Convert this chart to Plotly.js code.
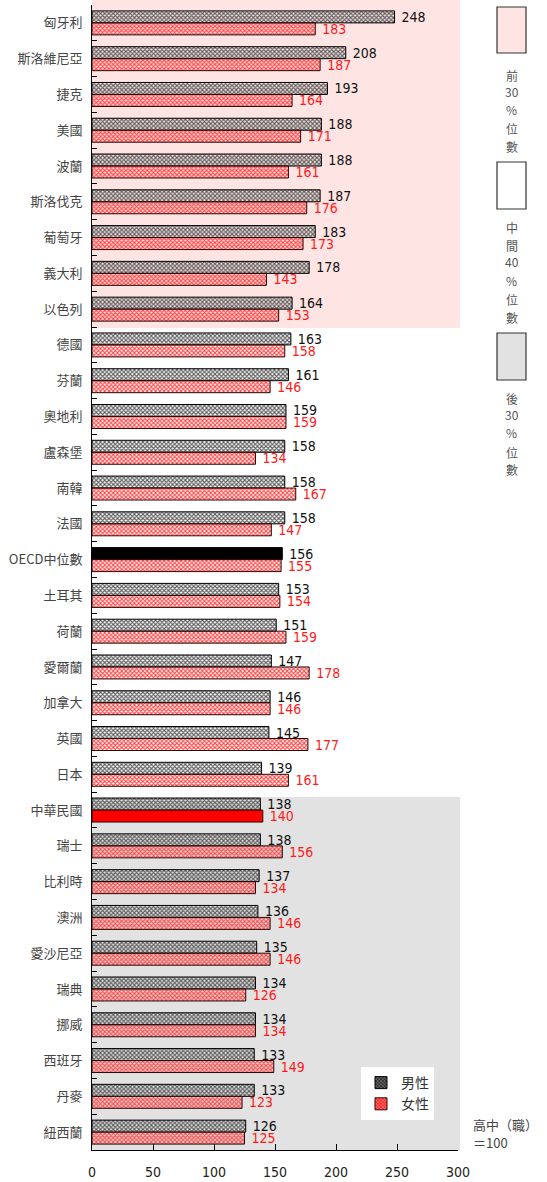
<!DOCTYPE html>
<html>
<head>
<meta charset="utf-8">
<script src="https://cdn.plot.ly/plotly-3.0.1.min.js"></script>
<style>html,body{margin:0;padding:0;background:#fff;}#chart{width:547px;height:1182px;}</style>
</head>
<body>
<div id="chart"></div>
<script>
const categories = ["匈牙利","斯洛維尼亞","捷克","美國","波蘭","斯洛伐克","葡萄牙","義大利","以色列","德國","芬蘭","奧地利","盧森堡","南韓","法國","OECD中位數","土耳其","荷蘭","愛爾蘭","加拿大","英國","日本","中華民國","瑞士","比利時","澳洲","愛沙尼亞","瑞典","挪威","西班牙","丹麥","紐西蘭"];
const maleValues = [248,208,193,188,188,187,183,178,164,163,161,159,158,158,158,156,153,151,147,146,145,139,138,138,137,136,135,134,134,133,133,126];
const femaleValues = [183,187,164,171,161,176,173,143,153,158,146,159,134,167,147,155,154,159,178,146,177,161,140,156,134,146,146,126,134,149,123,125];
const seriesNames = ["男性","女性"];
const xTicks = [0,50,100,150,200,250,300];
const sideLabels = [
  {lines:["前","30","%","位","數"], ys:[75,91,110,128,147]},
  {lines:["中","間","40","%","位","數"], ys:[227,245,261,280,299,317]},
  {lines:["後","30","%","位","數"], ys:[398,414,433,452,470]}
];

const W = 547, H = 1182, L = 92, R = 458, T = 5, B = 1150;
const px = x => (x - L) / (R - L);
const py = y => (B - y) / (B - T);
const NARROW = '"Liberation Sans Narrow","Arial Narrow","DejaVu Sans Condensed",sans-serif';
const CJK = '"Noto Sans CJK TC","Noto Sans CJK SC",sans-serif';

const maleColor = categories.map(c => c === "OECD中位數" ? "#000000" : "#5e5e5e");
const maleShape = categories.map(c => c === "OECD中位數" ? "" : "x");
const femaleColor = categories.map(c => c === "中華民國" ? "#ff0000" : "#ff4a4a");
const femaleShape = categories.map(c => c === "中華民國" ? "" : "x");

const traces = [
  {
    type: "bar", orientation: "h", name: seriesNames[0],
    y: categories, x: maleValues,
    marker: {color: maleColor, line: {color: "#000", width: 1},
      pattern: {shape: maleShape, fgcolor: "#262626", bgcolor: "#7c7c7c", size: 3, solidity: 0.6}},
    text: maleValues.map(String), textposition: "outside", constraintext: "none",
    texttemplate: " %{text}",
    textfont: {family: NARROW, size: 14, color: "#111"}, cliponaxis: false,
    hoverinfo: "skip"
  },
  {
    type: "bar", orientation: "h", name: seriesNames[1],
    y: categories, x: femaleValues,
    marker: {color: femaleColor, line: {color: "#2a0808", width: 1},
      pattern: {shape: femaleShape, fgcolor: "#ff1a1a", bgcolor: "#ff8c8c", size: 3, solidity: 0.6}},
    text: femaleValues.map(String), textposition: "outside", constraintext: "none",
    texttemplate: " %{text}",
    textfont: {family: NARROW, size: 14, color: "#ff1a1a"}, cliponaxis: false,
    hoverinfo: "skip"
  }
];

const shapes = [
  {type: "rect", xref: "paper", yref: "paper", x0: 0, x1: px(460), y0: py(328), y1: py(0), fillcolor: "#ffe4e4", line: {width: 0}, layer: "below"},
  {type: "rect", xref: "paper", yref: "paper", x0: 0, x1: px(460), y0: 0, y1: py(797), fillcolor: "#e2e2e2", line: {width: 0}, layer: "below"},
  {type: "rect", xref: "paper", yref: "paper", x0: px(497), x1: px(526), y0: py(53), y1: py(7), fillcolor: "#ffe4e4", line: {width: 1.2, color: "#333"}},
  {type: "rect", xref: "paper", yref: "paper", x0: px(497), x1: px(526), y0: py(209), y1: py(162), fillcolor: "#ffffff", line: {width: 1.2, color: "#333"}},
  {type: "rect", xref: "paper", yref: "paper", x0: px(497), x1: px(526), y0: py(380), y1: py(333), fillcolor: "#e2e2e2", line: {width: 1.2, color: "#333"}}
];

const annotations = [];
sideLabels.forEach(g => g.lines.forEach((t, i) => {
  annotations.push({xref: "paper", yref: "paper", x: px(511.5), y: py(g.ys[i]), text: t, showarrow: false,
    xanchor: "center", yanchor: "middle", font: {family: CJK, size: 12, color: "#555"}});
}));
annotations.push({xref: "paper", yref: "paper", x: px(471), y: py(1124), text: "高中（職）", showarrow: false,
  xanchor: "left", yanchor: "middle", font: {family: CJK, size: 13, color: "#444"}});
annotations.push({xref: "paper", yref: "paper", x: px(471), y: py(1142), text: "＝100", showarrow: false,
  xanchor: "left", yanchor: "middle", font: {family: CJK, size: 13, color: "#444"}});

const layout = {
  width: W, height: H,
  margin: {l: L, r: W - R, t: T, b: H - B, pad: 0},
  paper_bgcolor: "#fff", plot_bgcolor: "rgba(0,0,0,0)",
  barmode: "group", bargap: 0.33, bargroupgap: 0,
  showlegend: true,
  legend: {x: px(434), xanchor: "right", y: py(1120), yanchor: "bottom", bgcolor: "#fff",
    font: {family: CJK, size: 14, color: "#333"}, itemwidth: 30, tracegroupgap: 2},
  xaxis: {range: [0, 300], tickvals: xTicks, ticktext: xTicks.map(String), showline: true, linecolor: "#000", linewidth: 1,
    ticks: "inside", ticklen: 6, tickcolor: "#000", showgrid: false, zeroline: false,
    tickfont: {family: NARROW, size: 14, color: "#222"}, ticklabelstandoff: 9, fixedrange: true},
  yaxis: {type: "category", autorange: "reversed", showline: true, linecolor: "#000", linewidth: 1,
    ticks: "inside", tickson: "boundaries", ticklen: 5, tickcolor: "#000", showgrid: false, zeroline: false,
    tickfont: {family: CJK, size: 13, color: "#444"}, ticklabelstandoff: 6, fixedrange: true},
  shapes: shapes, annotations: annotations
};

Plotly.newPlot("chart", traces, layout, {staticPlot: true});
</script>
</body>
</html>
